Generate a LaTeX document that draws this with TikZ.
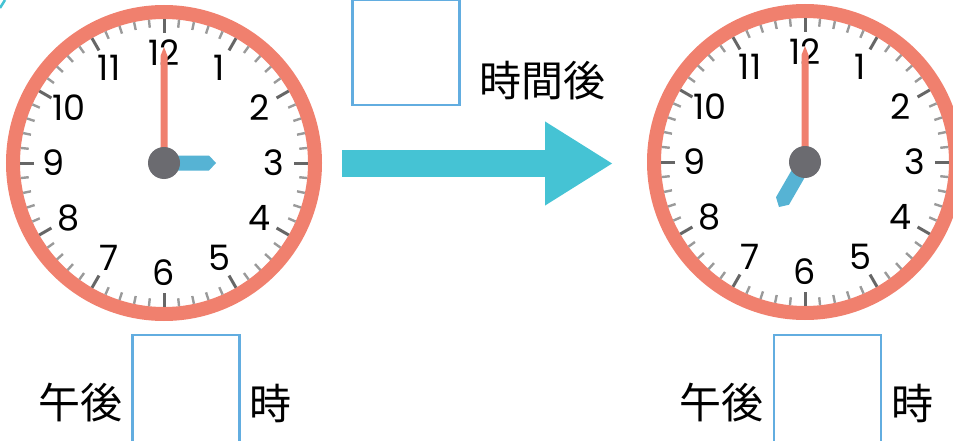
\documentclass[tikz,border=0pt]{standalone}
\usepackage{fontspec}
\setmainfont{Poppins}
\newfontfamily\jpfont{Noto Sans CJK JP}
\usetikzlibrary{positioning}
\usetikzlibrary{calc}
\usetikzlibrary{arrows.meta}

\definecolor{ringred}{HTML}{F0806E}
\definecolor{handblue}{HTML}{56B3D4}
\definecolor{hubgray}{HTML}{6B6B70}
\definecolor{tickgray}{HTML}{666666}
\definecolor{minorgray}{HTML}{9A9A9A}
\definecolor{boxblue}{HTML}{62ADE0}
\definecolor{arrowcyan}{HTML}{45C3D4}

\tikzset{
	answer box/.style={draw=boxblue,line width=2.5pt,inner sep=0pt,minimum width=107pt},
	jp label/.style={font=\jpfont\fontsize{42}{42}\selectfont,inner sep=0pt},
	dial num/.style={font=\fontsize{35}{35}\selectfont,inner sep=0pt},
}

\begin{document}
\begin{tikzpicture}[x=1pt,y=1pt]
	\useasboundingbox (0,0) rectangle (953,440);
	\clip (0,0) rectangle (953,440);
	\draw[arrowcyan,line width=2.5pt] (0,432) -- (5,440);
	
	\foreach \cx/\cy/\ha/\nm in {164/277/0/before,805/278/-120/after} {
		\begin{scope}[shift={(\cx,\cy)}]
			\coordinate (\nm) at (0,0);
			\fill[white] (0,0) circle (151);
			\draw[ringred,line width=14pt] (0,0) circle (151);
			\foreach \m in {0,...,59} {
				\pgfmathtruncatemacro{\tk}{mod(\m,5)}
				\ifnum\tk=0
					\draw[tickgray,line width=3pt] (6*\m:130) -- (6*\m:144);
				\else
					\draw[minorgray,line width=2.4pt] (6*\m:136) -- (6*\m:144);
				\fi
			}
			\foreach \k in {1,...,12}
				\node[dial num] (\nm-\k) at (90-30*\k:110) {\k};
			\fill[ringred] (-3.5,0) -- (-3.5,107) -- (0,116) -- (3.5,107) -- (3.5,0) -- cycle;
			\fill[handblue,rotate=\ha] (0,-7.5) -- (45,-7.5) -- (52,0) -- (45,7.5) -- (0,7.5) -- cycle;
			\fill[hubgray] (0,0) circle (16);
		\end{scope}
	}
	
	\coordinate (arrow tail) at (342,276.5);
	\coordinate (arrow tip) at (613,276.5);
	\draw[arrowcyan,line width=27pt,-{Triangle[length=68pt,width=79pt]}] (arrow tail) -- (arrow tip);
	
	\node[answer box,minimum height=105pt] (hours) at (406,387.5) {};
	\node[jp label] (hours later) at (542,359) {時間後};
	
	\node[answer box,minimum height=110pt] (hour before) at (186,50) {};
	\node[jp label] (pm before) at (80,37) {午後};
	\node[jp label] (o before) at (270,37) {時};
	
	\node[answer box,minimum height=110pt] (hour after) at (827.5,50) {};
	\node[jp label] (pm after) at (721,37) {午後};
	\node[jp label] (o after) at (912,37) {時};
	
\end{tikzpicture}
\end{document}
